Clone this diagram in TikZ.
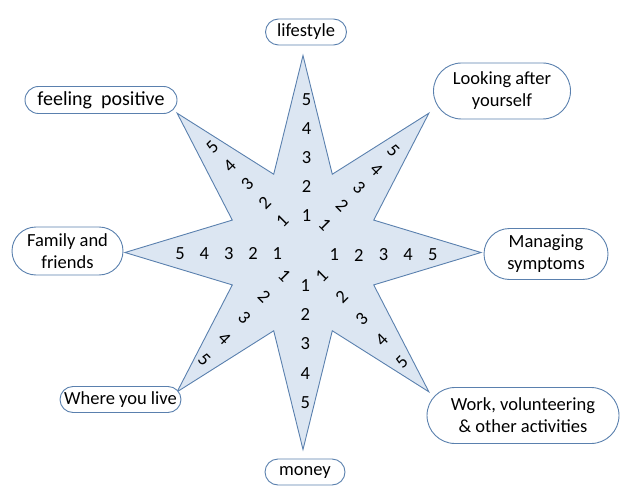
\documentclass[tikz,border=0pt]{standalone}
\usepackage{fontspec}
\setmainfont{Carlito}
\usetikzlibrary{shapes.misc}
\definecolor{rimblue}{HTML}{5A80AE}
\definecolor{starfill}{HTML}{DCE6F2}
\tikzset{
  lbl/.style={draw=rimblue, line width=0.9pt, rounded rectangle, fill=white, align=center,
              font=\fontsize{18.5}{22}\selectfont, inner sep=1pt},
  digit/.style={font=\fontsize{18.5}{20}\selectfont, inner sep=0pt},
  starshape/.style={draw=rimblue, line width=0.9pt, fill=starfill, line join=miter},
}
\begin{document}
\begin{tikzpicture}[x=1pt,y=-1pt]
\useasboundingbox (0,0) rectangle (636,497);
% ---- the eight-point star ----
\draw[starshape] (303,55.5) \foreach \i in {1,...,8}{
    -- ({303+0.43*178*cos(112.5-45*\i)},{252.5-0.43*197*sin(112.5-45*\i)})
    -- ({303+178*cos(90-45*\i)},{252.5-197*sin(90-45*\i)})} -- cycle;
% ---- labels ----
\node[lbl, minimum width=83pt,  minimum height=26pt] (life)   at (306,32)    {lifestyle};
\node[lbl, minimum width=139pt, minimum height=56pt] (look)   at (502,91)    {Looking after\\yourself};
\node[lbl, minimum width=154pt, minimum height=27pt, font=\fontsize{20}{24}\selectfont]
                                                     (feel)   at (101,100)   {feeling~ positive};
\node[lbl, minimum width=113pt, minimum height=48pt] (family) at (67.5,251)  {Family and\\friends};
\node[lbl, minimum width=126pt, minimum height=51pt] (manage) at (546,254)   {Managing\\symptoms};
\node[lbl, minimum width=123pt, minimum height=26pt] (where)  at (120.5,399.5) {Where you live};
\node[lbl, minimum width=194pt, minimum height=56pt] (work)   at (523,415.5) {Work, volunteering\\\& other activities};
\node[lbl, minimum width=82pt,  minimum height=26pt] (money)  at (305,472)   {money};
% ---- scales along the arms ----
\foreach \k in {1,...,5}{
  \node[digit] (n\k)  at (306.5,{215.7-28.9*(\k-1)}) {\k};
  \node[digit] (s\k)  at (305.3,{285.7+29.15*(\k-1)}) {\k};
  \node[digit] (w\k)  at ({277.3-24.3*(\k-1)},253.3) {\k};
  \node[digit] (e\k)  at ({334.3+24.6*(\k-1)},255)   {\k};
  \node[digit, rotate=-45] (ne\k) at ({325+17.1*(\k-1)},{224.3-18.3*(\k-1)}) {\k};
  \node[digit, rotate=45]  (nw\k) at ({282.3-17.5*(\k-1)},{221-18.4*(\k-1)}) {\k};
  \node[digit, rotate=-45] (sw\k) at ({284.3-20*(\k-1)},{275.7+21.1*(\k-1)}) {\k};
  \node[digit, rotate=45]  (se\k) at ({321.7+20*(\k-1)},{275.7+21.5*(\k-1)}) {\k};
}
\end{tikzpicture}
\end{document}
